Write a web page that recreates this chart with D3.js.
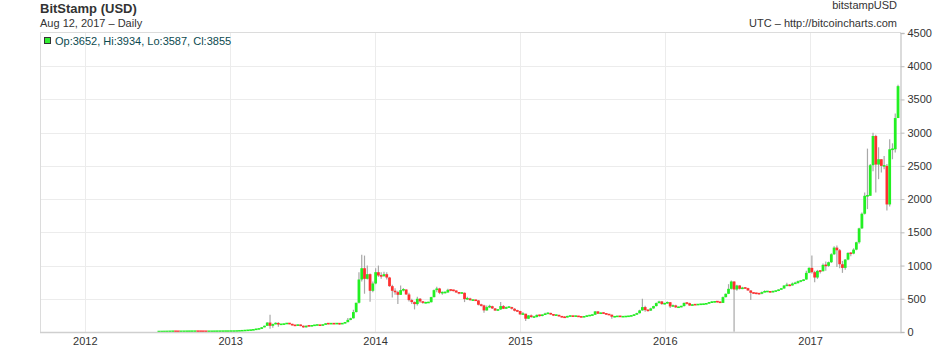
<!DOCTYPE html>
<html>
<head>
<meta charset="utf-8">
<script src="https://cdn.jsdelivr.net/npm/d3@7"></script>
<style>
  body { margin: 0; background: #fff; }
  text { font-family: Arial, "Liberation Sans", sans-serif; }
</style>
</head>
<body>
<div id="chart"></div>
<script>
// weekly candles, weeks start on Monday, open = close of the week before
var firstWeek = "2012-07-02";
var firstOpen = 6.7;

var close2012 = [7.1, 7.6, 8.6, 8.9, 10.9, 11.6, 10.5, 10.3, 10.4, 11.1, 11.8, 12.3, 12.3, 12.7, 12.0, 11.8, 11.0, 10.8, 10.9, 11.0, 12.2, 12.4, 12.6, 13.3, 13.4, 13.4, 13.5];
var high2012  = [7.3, 7.8, 9.0, 9.2, 11.0, 12.0, 15.4, 11.0, 11.0, 11.3, 12.0, 12.5, 12.6, 12.9, 12.7, 12.0, 11.9, 11.2, 11.0, 11.3, 12.5, 12.7, 13.0, 13.6, 13.6, 13.6, 13.7];
var low2012   = [6.6, 7.0, 7.5, 8.5, 8.8, 10.8, 8.0, 9.8, 10.0, 10.4, 11.0, 11.8, 12.0, 12.2, 11.8, 11.5, 10.8, 10.5, 10.5, 10.8, 10.9, 12.1, 12.4, 12.5, 13.1, 13.2, 13.2];

var close2013 = [14.2, 15.7, 17.8, 20.4, 23.6, 27.0, 29.9, 34.5, 46, 47, 71, 93, 142, 93, 119, 134, 115, 116, 122, 133, 122, 100, 99, 108, 94, 70, 95, 90, 96, 105, 106, 99, 111, 128, 124, 127, 124, 129, 122, 130, 148, 183, 206, 300, 440, 790, 960, 800, 870, 620, 730, 900];
var high2013  = [14.5, 16.0, 18.0, 20.8, 24.0, 27.5, 30.5, 34.8, 48, 48.5, 75, 96, 148, 259, 128, 145, 147, 122, 125, 134, 135, 123, 109, 112, 111, 96, 99, 98, 97, 106, 108, 107, 113, 130, 131, 129, 129, 131, 134, 133, 150, 212, 215, 336, 442, 900, 1163, 1150, 1000, 880, 760, 960];
var low2013   = [13.3, 14.0, 15.6, 17.6, 20.2, 23.4, 26.5, 29.5, 33, 42, 46, 70, 93, 50, 63, 115, 80, 107, 111, 120, 116, 99, 95, 95, 88, 65, 68, 83, 88, 94, 102, 95, 98, 110, 118, 120, 122, 123, 110, 121, 128, 146, 175, 204, 292, 430, 760, 576, 790, 455, 600, 720];

var close2014 = [850, 840, 870, 820, 690, 620, 600, 560, 630, 640, 565, 480, 450, 420, 500, 460, 440, 440, 448, 525, 630, 655, 590, 595, 595, 635, 630, 625, 595, 585, 590, 495, 505, 480, 480, 475, 410, 400, 325, 375, 388, 355, 323, 340, 390, 350, 375, 375, 350, 320, 315, 265];
var high2014  = [1000, 900, 905, 900, 830, 710, 660, 620, 700, 660, 640, 590, 500, 460, 530, 510, 465, 455, 455, 530, 640, 680, 665, 610, 610, 650, 645, 635, 625, 600, 600, 595, 530, 515, 490, 485, 480, 425, 410, 400, 410, 395, 360, 345, 450, 405, 385, 385, 380, 360, 335, 320];
var low2014   = [830, 800, 830, 790, 680, 520, 560, 420, 555, 610, 560, 460, 420, 340, 400, 440, 425, 430, 440, 445, 520, 600, 570, 560, 580, 590, 615, 610, 590, 570, 575, 450, 480, 470, 465, 465, 400, 385, 290, 320, 360, 345, 320, 315, 330, 345, 345, 360, 340, 310, 300, 260];

var close2015 = [275, 200, 250, 225, 225, 258, 245, 260, 275, 285, 265, 252, 255, 237, 223, 220, 240, 240, 237, 240, 230, 225, 233, 245, 250, 260, 310, 275, 290, 280, 265, 260, 230, 230, 240, 230, 231, 235, 238, 246, 262, 283, 325, 375, 330, 322, 355, 390, 435, 460, 420, 432];
var high2015  = [300, 275, 255, 265, 245, 262, 260, 265, 290, 296, 290, 270, 262, 260, 240, 236, 245, 248, 245, 245, 242, 233, 237, 252, 252, 262, 315, 312, 295, 298, 285, 270, 265, 236, 242, 243, 236, 238, 241, 248, 270, 290, 335, 500, 395, 340, 365, 395, 445, 470, 465, 440];
var low2015   = [265, 166, 195, 215, 212, 218, 230, 236, 255, 270, 260, 240, 240, 235, 218, 215, 218, 232, 232, 233, 228, 222, 222, 232, 240, 248, 255, 270, 270, 276, 260, 255, 200, 220, 225, 225, 226, 229, 233, 236, 244, 260, 280, 320, 305, 310, 315, 350, 385, 430, 410, 415];

var close2016 = [448, 385, 400, 370, 375, 390, 438, 433, 398, 413, 410, 416, 418, 420, 429, 447, 450, 458, 456, 438, 525, 575, 650, 760, 640, 700, 650, 665, 660, 625, 590, 585, 580, 575, 600, 610, 610, 600, 615, 618, 640, 655, 700, 705, 700, 730, 735, 765, 770, 790, 890, 965];
var high2016  = [460, 450, 415, 410, 380, 395, 445, 445, 440, 418, 418, 418, 425, 425, 430, 450, 467, 462, 462, 458, 535, 580, 720, 775, 765, 710, 705, 680, 675, 665, 630, 600, 590, 585, 610, 630, 612, 615, 620, 622, 642, 660, 705, 740, 720, 745, 755, 775, 775, 795, 920, 975];
var low2016   = [425, 360, 375, 365, 365, 372, 385, 415, 395, 395, 405, 405, 412, 415, 418, 425, 445, 445, 445, 435, 436, 520, 570, 640, 5, 620, 640, 645, 650, 620, 480, 575, 570, 565, 570, 600, 600, 590, 595, 605, 615, 635, 650, 690, 690, 700, 725, 730, 750, 765, 785, 885];

var close2017 = [900, 820, 920, 915, 1010, 995, 1050, 1170, 1270, 1230, 1020, 965, 1090, 1190, 1180, 1240, 1350, 1560, 1780, 2050, 2050, 2510, 2950, 2520, 2600, 2500, 2500, 1920, 2750, 2750, 3220, 3700];
var high2017  = [1150, 920, 935, 930, 1030, 1060, 1060, 1185, 1290, 1300, 1250, 1070, 1100, 1200, 1200, 1260, 1360, 1570, 1800, 2100, 2760, 2530, 3000, 2970, 2780, 2600, 2650, 2530, 2900, 2840, 3290, 3720];
var low2017   = [880, 750, 800, 880, 910, 920, 980, 1040, 1160, 980, 960, 890, 935, 1080, 1140, 1170, 1230, 1330, 1550, 1770, 1850, 2050, 2420, 2100, 2300, 2400, 2450, 1830, 1890, 2600, 2700, 3220];

var priceTicks = [0, 500, 1000, 1500, 2000, 2500, 3000, 3500, 4000, 4500];
var yearTicks = [2012, 2013, 2014, 2015, 2016, 2017];

var title = "BitStamp (USD)";
var subtitle = "Aug 12, 2017 \u2013 Daily";
var symbolText = "bitstampUSD";
var sourceText = "UTC \u2013 http://bitcoincharts.com";
var legendText = "Op:3652, Hi:3934, Lo:3587, Cl:3855";

var W = 940, H = 348;
var margin = { left: 40, right: 901, top: 33, bottom: 332 };

var closes = close2012.concat(close2013, close2014, close2015, close2016, close2017);
var highs = high2012.concat(high2013, high2014, high2015, high2016, high2017);
var lows = low2012.concat(low2013, low2014, low2015, low2016, low2017);

var start = d3.utcParse("%Y-%m-%d")(firstWeek);
var data = closes.map(function (c, i) {
    return {
        date: d3.utcWeek.offset(start, i),
        open: i ? closes[i - 1] : firstOpen,
        close: c,
        high: highs[i],
        low: lows[i]
    };
});

var x = d3.scaleUtc()
    .domain([Date.UTC(2011, 8, 10), Date.UTC(2017, 7, 18)])
    .range([margin.left, margin.right]);
var y = d3.scaleLinear()
    .domain([0, 4500])
    .range([margin.bottom, margin.top]);

var svg = d3.select("#chart").append("svg")
    .attr("width", W)
    .attr("height", H);

// grid
svg.append("g").selectAll("line")
    .data(priceTicks.slice(1, -1))
    .enter().append("line")
    .attr("x1", margin.left).attr("x2", margin.right - 1)
    .attr("y1", function (d) { return Math.round(y(d)) + 0.5; })
    .attr("y2", function (d) { return Math.round(y(d)) + 0.5; })
    .style("stroke", "#ececec");

svg.append("g").selectAll("line")
    .data(yearTicks)
    .enter().append("line")
    .attr("x1", function (d) { return Math.round(x(Date.UTC(d, 0, 1))) + 0.5; })
    .attr("x2", function (d) { return Math.round(x(Date.UTC(d, 0, 1))) + 0.5; })
    .attr("y1", margin.top).attr("y2", margin.bottom)
    .style("stroke", "#ececec");

// frame (top and left)
svg.append("path")
    .attr("d", "M" + (margin.left + 0.5) + "," + margin.bottom + "V" + (margin.top - 0.5) + "H" + margin.right)
    .style("fill", "none")
    .style("stroke", "#dcdcdc");

// candles
function cx(d) { return x(d3.utcHour.offset(d.date, 84)); }
function cw(d) { return x(d3.utcDay.offset(d.date, 7)) - x(d.date); }

svg.append("g").selectAll("line")
    .data(data)
    .enter().append("line")
    .attr("x1", cx).attr("x2", cx)
    .attr("y1", function (d) { return y(d.high); })
    .attr("y2", function (d) { return y(d.low); })
    .style("stroke", "#a8a8a8")
    .style("stroke-width", 1.2);

svg.append("g").selectAll("rect")
    .data(data)
    .enter().append("rect")
    .attr("x", function (d) { return cx(d) - cw(d) / 2; })
    .attr("width", cw)
    .attr("y", function (d) {
        var t = y(Math.max(d.open, d.close)), b = y(Math.min(d.open, d.close));
        return b - t < 1.6 ? (t + b) / 2 - 0.8 : t;
    })
    .attr("height", function (d) {
        return Math.max(1.6, Math.abs(y(d.open) - y(d.close)));
    })
    .style("fill", function (d) { return d.close >= d.open ? "#22f022" : "#ff3030"; });

// bottom axis
var xAxis = svg.append("g")
    .attr("transform", "translate(0," + margin.bottom + ")")
    .call(d3.axisBottom(x)
        .tickValues(yearTicks.map(function (d) { return new Date(Date.UTC(d, 0, 1)); }))
        .tickSize(0).tickPadding(5)
        .tickFormat(d3.utcFormat("%Y")));
xAxis.select(".domain").attr("d", "M" + margin.left + ",0.5H" + (margin.right + 0.5)).style("stroke", "#cfcfcf").style("stroke-width", 1.5);
xAxis.selectAll("text").style("font-size", "11px").style("fill", "#333").attr("dy", "0.75em");

// right axis
var yAxis = svg.append("g")
    .attr("transform", "translate(" + (margin.right - 0.5) + ",0)")
    .call(d3.axisRight(y).tickValues(priceTicks).tickSize(4).tickPadding(3).tickFormat(d3.format("d")));
yAxis.select(".domain").style("stroke", "#cfcfcf").style("stroke-width", 1.5);
yAxis.selectAll(".tick line").style("stroke", "#bbb");
yAxis.selectAll("text").style("font-size", "11px").style("fill", "#333");

// titles
svg.append("text").attr("x", 40).attr("y", 13)
    .style("font-size", "13px").style("font-weight", "bold").style("fill", "#333")
    .text(title);
svg.append("text").attr("x", 40).attr("y", 27)
    .style("font-size", "11px").style("fill", "#333")
    .text(subtitle);
svg.append("text").attr("x", 897).attr("y", 9)
    .style("font-size", "11px").style("fill", "#333").style("text-anchor", "end")
    .text(symbolText);
svg.append("text").attr("x", 897).attr("y", 27)
    .style("font-size", "11px").style("fill", "#333").style("text-anchor", "end")
    .text(sourceText);

// legend
svg.append("rect").attr("x", 44.5).attr("y", 37.5).attr("width", 6).attr("height", 6)
    .style("fill", "#33ee33").style("stroke", "#333");
svg.append("text").attr("x", 55).attr("y", 45)
    .style("font-size", "11px").style("fill", "#0c4a4f")
    .text(legendText);
</script>
</body>
</html>
